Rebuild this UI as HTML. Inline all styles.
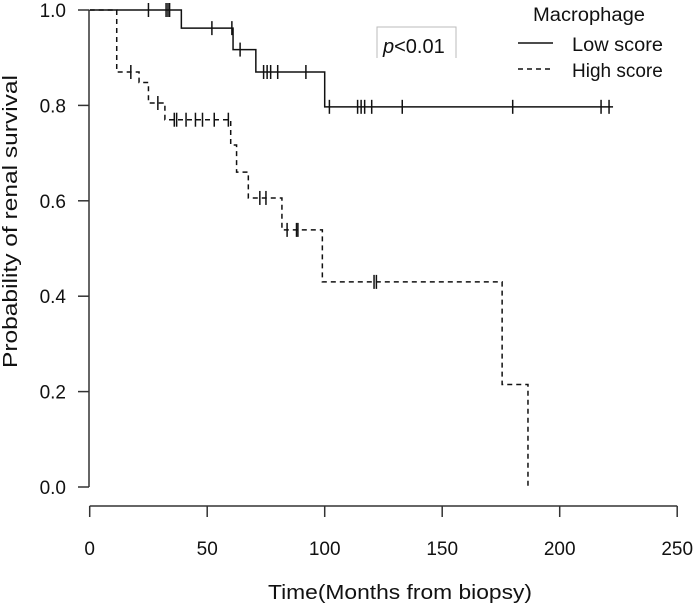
<!DOCTYPE html>
<html><head><meta charset="utf-8"><style>
body{margin:0;background:#fff}
svg{display:block;font-family:"Liberation Sans",Arial,sans-serif}
</style></head><body>
<svg id="chart" width="694" height="606" viewBox="0 0 694 606">
<g id="axes"></g>
<g id="plot"></g>
<text x="268" y="599" font-size="20" textLength="264" lengthAdjust="spacingAndGlyphs" fill="#111">Time(Months from biopsy)</text>
<text transform="translate(17,368) rotate(-90)" font-size="20" textLength="293" lengthAdjust="spacingAndGlyphs" fill="#111">Probability of renal survival</text>
<g>
<path d="M377,58 V27 H456 V58" fill="none" stroke="#bbb" stroke-width="1"/>
<text x="383" y="53" font-size="20" fill="#111"><tspan font-style="italic">p</tspan>&lt;0.01</text>
</g>
<g>
<text x="533" y="21" font-size="19" textLength="112" lengthAdjust="spacingAndGlyphs" fill="#111">Macrophage</text>
<line x1="518" y1="43" x2="553" y2="43" stroke="#111" stroke-width="1.5"/>
<text x="572" y="51" font-size="19" textLength="91" lengthAdjust="spacingAndGlyphs" fill="#111">Low score</text>
<line x1="518" y1="69" x2="553" y2="69" stroke="#111" stroke-width="1.5" stroke-dasharray="5,4"/>
<text x="572" y="77" font-size="19" fill="#111">High score</text>
</g>
</svg>
<script>
const xTicks=[0,50,100,150,200,250];
const yTicks=[0,0.2,0.4,0.6,0.8,1.0];
// Low score: step times and survival after step
const lowTimes=[0,39,61,70.7,100];
const lowSurv=[1,0.962,0.917,0.870,0.797];
const lowEnd=222.7;
const lowCensor=[25,32.5,33.3,34,52,60.5,64,74,75.5,77,80,92,102,114,115.5,117,120,133,180,217.6,221];
// High score
const highTimes=[0,11.5,21,25,32,60,62.5,67.5,81.8,99,175.5,186.5];
const highSurv=[1,0.870,0.848,0.805,0.770,0.717,0.660,0.606,0.539,0.430,0.215,0];
const highEnd=186.5;
const highCensor=[17.5,29,36,37,41,45,48,53,59,72.4,75,84,88,88.6,121,122];

const X=t=>89.7+t*2.35, Y=s=>487-s*477;
const NS="http://www.w3.org/2000/svg";
function mk(tag,attrs,parent){const e=document.createElementNS(NS,tag);for(const k in attrs)e.setAttribute(k,attrs[k]);parent.appendChild(e);return e;}
const axes=document.getElementById('axes'),plot=document.getElementById('plot');
let a=mk('line',{x1:X(0),x2:X(250),y1:506,y2:506,stroke:'#333','stroke-width':1.5},axes);


xTicks.forEach(v=>{
 let t=mk('line',{x1:X(v),x2:X(v),y1:506,y2:517,stroke:'#333','stroke-width':1.5},axes);
 
 
 let l=mk('text',{x:X(v),y:555,'font-size':19,'text-anchor':'middle',fill:'#111'},axes);l.textContent=v;
 
 
});
a=mk('line',{x1:89,x2:89,y1:Y(0),y2:Y(1),stroke:'#333','stroke-width':1.5},axes);


yTicks.forEach(v=>{
 let t=mk('line',{x1:78,x2:89,y1:Y(v),y2:Y(v),stroke:'#333','stroke-width':1.5},axes);
 
 
 let l=mk('text',{x:66,y:Y(v)+7,'font-size':19,'text-anchor':'end',fill:'#111'},axes);l.textContent=v.toFixed(1);
 
 
});
function survAt(times,surv,t){let s=surv[0];for(let i=0;i<times.length;i++)if(times[i]<=t)s=surv[i];return s;}
function curve(times,surv,end,cens,dash,name){
 let d='M'+X(times[0])+','+Y(surv[0]);
 for(let i=1;i<times.length;i++){d+=' H'+X(times[i])+' V'+Y(surv[i]);}
 d+=' H'+X(end);
 const p=mk('path',{d:d,fill:'none',stroke:'#111','stroke-width':1.5},plot);
 if(dash)p.setAttribute('stroke-dasharray','5,4');
 
 
 cens.forEach(c=>{
  const y=Y(survAt(times,surv,c));
  const m=mk('line',{x1:X(c),x2:X(c),y1:y-7,y2:y+7,stroke:'#111','stroke-width':1.5},plot);
  
  
 });
}
curve(lowTimes,lowSurv,lowEnd,lowCensor,false,'low-score');
curve(highTimes,highSurv,highEnd,highCensor,true,'high-score');
</script>
</body></html>
